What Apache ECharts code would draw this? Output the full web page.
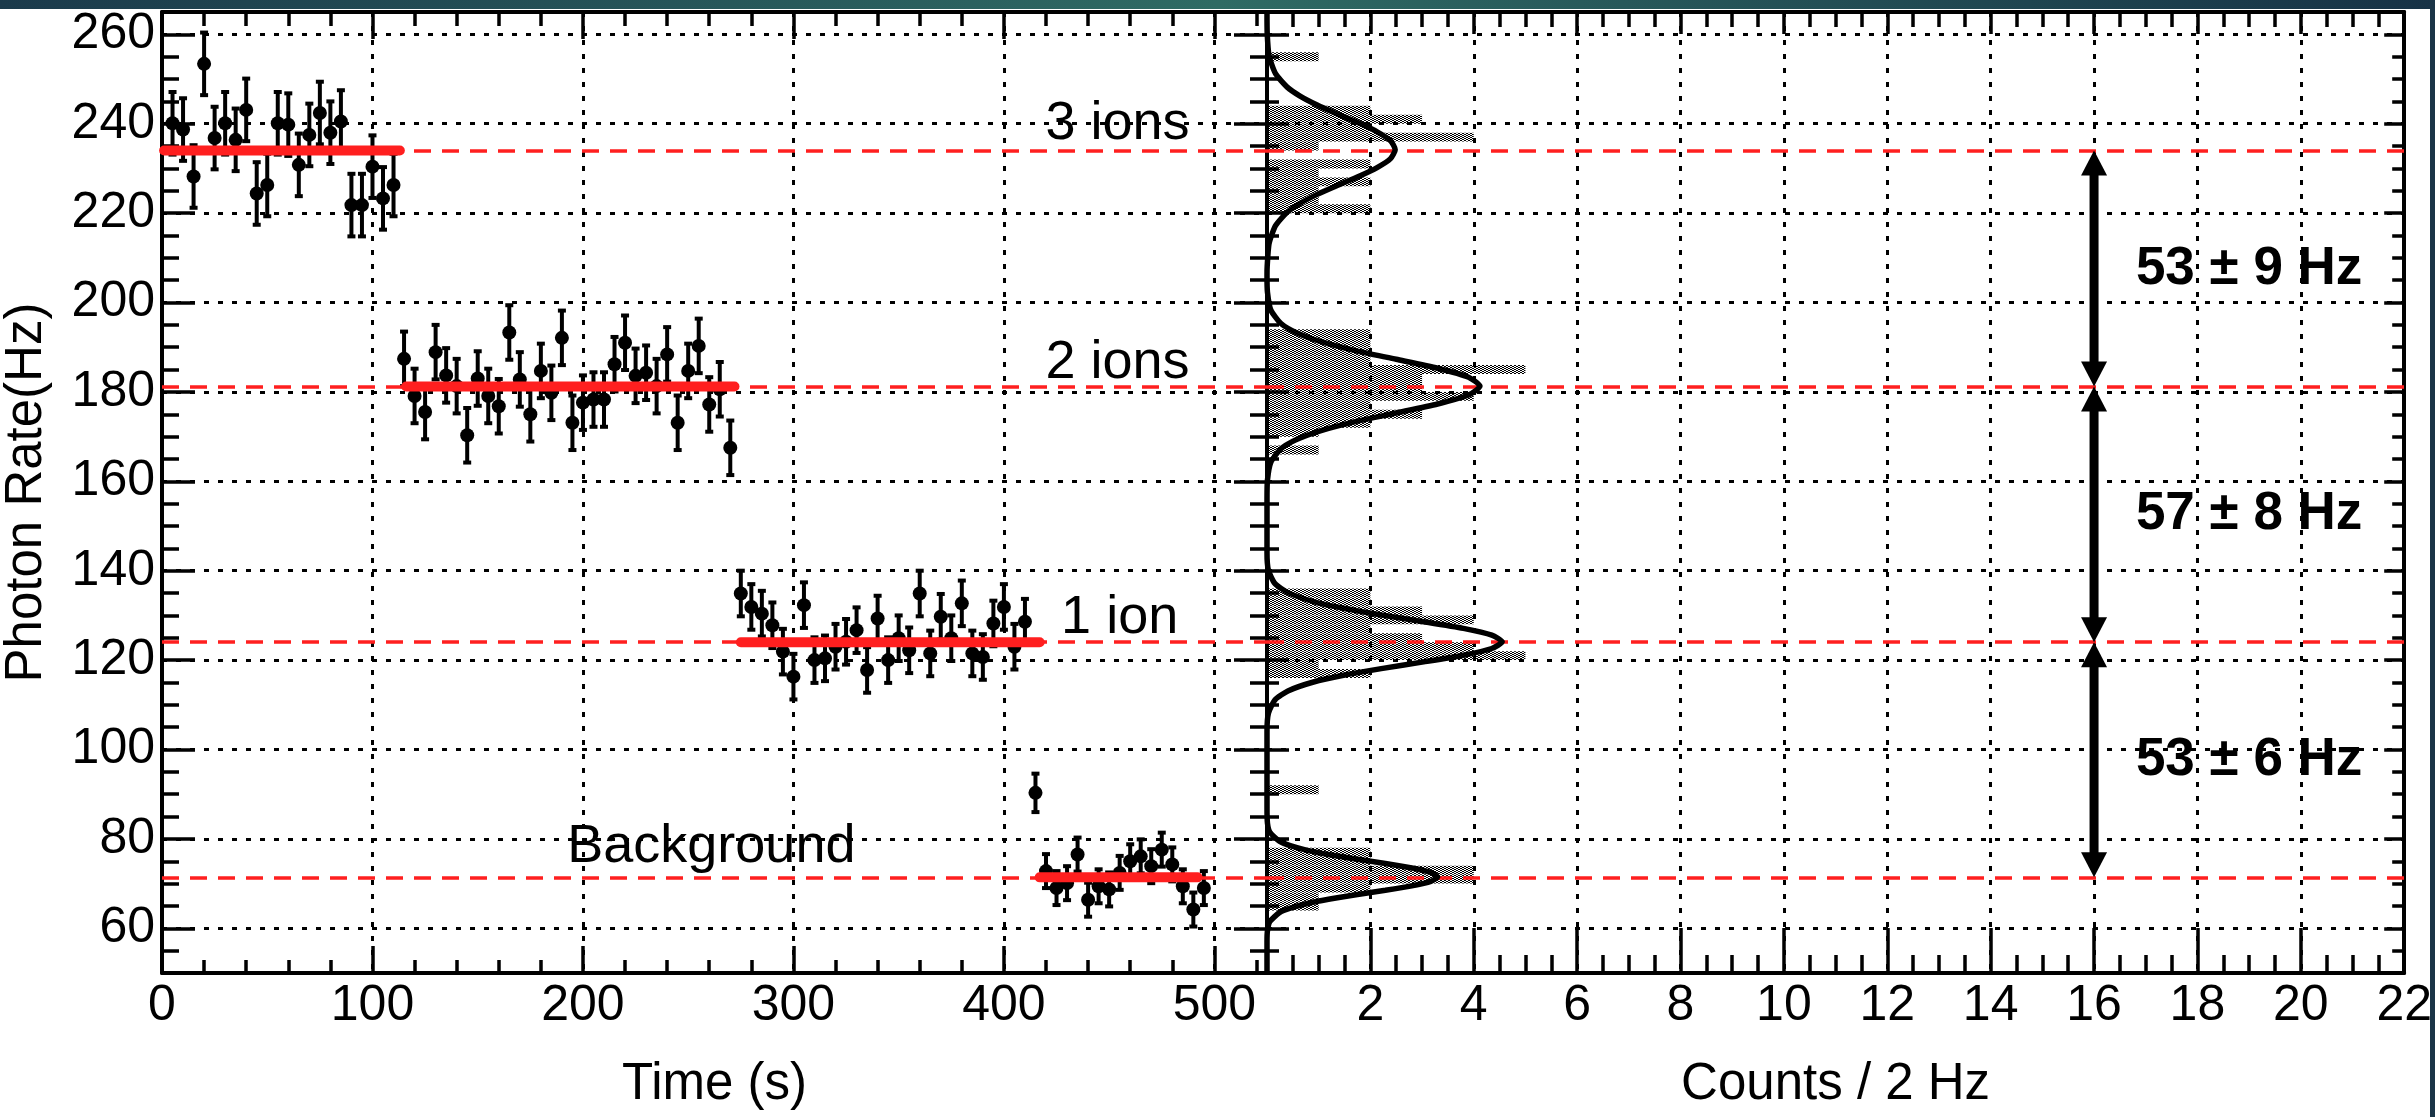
<!DOCTYPE html>
<html>
<head>
<meta charset="utf-8">
<script src="https://cdn.jsdelivr.net/npm/echarts@6/dist/echarts.min.js"></script>
<style>
html,body{margin:0;padding:0;background:#ffffff;}
#chart{width:2435px;height:1117px;}
</style>
</head>
<body>
<div id="chart"></div>
<script>
// ---------------- DATA ----------------
// Time trace: 5 s bins, photon rate (Hz)
const seg1Times = [5,10,15,20,25,30,35,40,45,50,55,60,65,70,75,80,85,90,95,100,105,110];
const seg1Rates = [240.1,238.7,228.2,253.4,236.8,240.1,236.4,243.1,224.4,226.3,240.1,239.8,230.8,237.5,242.4,238.0,240.5,221.8,221.8,230.4,223.3,226.3];

const seg2Times = [115,120,125,130,135,140,145,150,155,160,165,170,175,180,185,190,195,200,205,210,215,220,225,230,235,240,245,250,255,260,265,270];
const seg2Rates = [187.4,179.1,175.5,188.9,183.7,181.3,170.3,183.0,179.1,176.8,193.3,182.8,175.0,184.7,179.8,192.1,173.1,177.6,178.3,178.3,186.2,191.0,183.6,184.3,181.3,188.4,173.1,184.7,190.3,177.2,180.6,167.5];

const seg3Times = [275,280,285,290,295,300,305,310,315,320,325,330,335,340,345,350,355,360,365,370,375,380,385,390,395,400,405,410];
const seg3Rates = [134.9,131.9,130.4,127.8,121.9,116.3,132.3,120.0,120.4,123.0,124.1,126.7,117.8,129.3,120.0,124.9,122.2,134.9,121.5,129.7,124.9,132.7,121.5,120.7,128.2,131.9,123.0,128.6];

const spikeTimes = [415];
const spikeRates = [90.3];

const bgTimes = [420,425,430,435,440,445,450,455,460,465,470,475,480,485,490,495];
const bgRates = [72.8,69.0,70.1,76.5,66.4,69.4,68.7,72.4,75.0,76.1,73.9,77.6,74.3,69.4,64.2,69.0];

// half-length of the error bars of each segment (Hz)
const segmentErrors = [7.0, 6.1, 5.1, 4.3, 3.8];

// fitted plateau levels (Hz) and the time span of each solid red fit line (s)
const fitLevels = [234.0, 181.2, 124.0, 71.4];
const fitStarts = [1, 116, 275, 417];
const fitEnds   = [113, 272, 417, 492];

// histogram of rates: lower bin edge (Hz), counts per 2 Hz
const histBinWidth = 2;
const histLowEdges = [64,66,68,70,72,74,76, 90,
  116,118,120,122,124,126,128,130,132,134,
  166,170,172,174,176,178,180,182,184,186,188,190,192,
  220,222,224,226,228,230,234,236,238,240,242,254];
const histCounts = [1,1,2,4,4,2,2, 1,
  2,1,5,4,3,2,4,3,2,2,
  1,1,2,3,2,4,3,3,5,2,2,2,2,
  2,1,1,2,1,2,1,4,2,3,2,1];

// Gaussian fit curve: [counts, rate]
const fitCurve = [
 [0,50],[0,57],[0.009,59.5],[0.056,61.5],[0.24,63.5],[0.45,64.5],[0.76,65.5],[1.19,66.5],[1.72,67.5],[2.29,68.5],[2.80,69.5],[3.17,70.5],[3.30,71.5],[3.17,72.5],[2.80,73.5],[2.29,74.5],[1.72,75.5],[1.19,76.5],[0.76,77.5],[0.45,78.5],[0.24,79.5],[0.056,81.5],[0.009,83.5],[0,87],
 [0,104],[0.027,108.1],[0.155,111.1],[0.405,113.1],[0.90,115.1],[1.48,116.6],[2.21,118.1],[3.03,119.6],[3.80,121.1],[4.35,122.6],[4.55,124.1],[4.35,125.6],[3.80,127.1],[3.03,128.6],[2.21,130.1],[1.48,131.6],[0.90,133.1],[0.405,135.1],[0.155,137.1],[0.027,140.1],[0,144],
 [0,156],[0.009,160.3],[0.075,164.3],[0.27,167.3],[0.56,169.3],[1.03,171.3],[1.69,173.3],[2.50,175.3],[3.30,177.3],[3.90,179.3],[4.12,181.3],[3.90,183.3],[3.30,185.3],[2.50,187.3],[1.69,189.3],[1.03,191.3],[0.56,193.3],[0.27,195.3],[0.075,198.3],[0.009,202.3],[0,206],
 [0.004,208.2],[0.04,213.2],[0.165,217.2],[0.39,220.2],[0.64,222.2],[0.97,224.2],[1.36,226.2],[1.77,228.2],[2.13,230.2],[2.39,232.2],[2.48,234.2],[2.39,236.2],[2.13,238.2],[1.77,240.2],[1.36,242.2],[0.97,244.2],[0.64,246.2],[0.39,248.2],[0.165,251.2],[0.04,255.2],[0.004,260.2],[0,265]
];

// tick labels
const timeTicks  = [0,100,200,300,400,500];
const countTicks = [2,4,6,8,10,12,14,16,18,20,22];
const rateTicks  = [60,80,100,120,140,160,180,200,220,240,260];

// annotations
const levelLabels = ['3 ions','2 ions','1 ion','Background'];
const levelLabelTimes = [454, 454, 455, 261];
const levelLabelRates = [239.9, 186.4, 129.5, 78.2];
const stepLabels = ['53 \u00b1 9 Hz','57 \u00b1 8 Hz','53 \u00b1 6 Hz'];
const stepLabelCounts = [19.0, 19.0, 19.0];
const stepLabelRates = [207.4, 152.5, 97.5];
const arrowAtCount = 16;

// ---------------- BUILD ----------------
const pointSets = [[seg1Times,seg1Rates],[seg2Times,seg2Rates],[seg3Times,seg3Rates],[spikeTimes,spikeRates],[bgTimes,bgRates]];
const points = [];
pointSets.forEach(function(s, i){ s[0].forEach(function(t, j){ points.push([t, s[1][j], segmentErrors[i]]); }); });
const fitSegs = fitLevels.map(function(l, i){ return [fitStarts[i], fitEnds[i], l]; });
const histData = histLowEdges.map(function(lo, i){ return [histCounts[i], lo, lo + histBinWidth]; });
const arrowData = [];
for (let i = 0; i < fitLevels.length - 1; i++) arrowData.push([arrowAtCount, fitLevels[i], fitLevels[i+1]]);
const levelLabelData = levelLabels.map(function(n, i){ return [levelLabelTimes[i], levelLabelRates[i], i]; });
const stepLabelData = stepLabels.map(function(n, i){ return [stepLabelCounts[i], stepLabelRates[i], i]; });

const FONT = '"Liberation Sans", Arial, Helvetica, sans-serif';
const RED = '#ff1f1f';
const GRIDLINE = {show:true, lineStyle:{color:'#000', width:3, type:[5,9]}};

// dotted fill pattern of the histogram
const pat = document.createElement('canvas'); pat.width = 4; pat.height = 2;
const pg = pat.getContext('2d'); pg.fillStyle = '#000';
pg.fillRect(0,0,2,1); pg.fillRect(2,1,2,1);

function ax(o) {
  const base = {
    type:'value', axisLine:{show:false, onZero:false, lineStyle:{color:'#000', width:4}},
    axisTick:{show:true, inside:true, length:10, lineStyle:{color:'#000', width:3.5}},
    axisLabel:{show:false}, splitLine:{show:false}
  };
  const r = Object.assign({}, base, o);
  r.axisLine = Object.assign({}, base.axisLine, o.axisLine || {});
  r.axisTick = Object.assign({}, base.axisTick, o.axisTick || {});
  return r;
}
const LBL = {show:true, color:'#000', fontSize:50, fontFamily:FONT};
const NAME = {color:'#000', fontSize:51, fontFamily:FONT};

const xAxes = [
  // left grid
  ax({gridIndex:0, min:0, max:525, interval:100, position:'bottom', axisLine:{show:true}, axisTick:{length:27},
      axisLabel:Object.assign({}, LBL, {margin:8, customValues:timeTicks}), splitLine:GRIDLINE,
      name:'Time (s)', nameLocation:'middle', nameGap:86, nameTextStyle:NAME}),
  ax({gridIndex:0, min:0, max:525, interval:20, position:'bottom', axisTick:{length:13}}),
  ax({gridIndex:0, min:0, max:525, interval:100, position:'top', axisLine:{show:true}, axisTick:{length:27}}),
  ax({gridIndex:0, min:0, max:525, interval:20, position:'top', axisTick:{length:14}}),
  // right grid
  ax({gridIndex:1, min:0, max:22, interval:2, position:'bottom', axisLine:{show:true}, axisTick:{length:45},
      axisLabel:Object.assign({}, LBL, {margin:8, customValues:countTicks}), splitLine:GRIDLINE,
      name:'Counts / 2 Hz', nameLocation:'middle', nameGap:86, nameTextStyle:NAME}),
  ax({gridIndex:1, min:0, max:22, interval:0.5, position:'bottom', axisTick:{length:18}}),
  ax({gridIndex:1, min:0, max:22, interval:2, position:'top', axisLine:{show:true}, axisTick:{length:22}}),
  ax({gridIndex:1, min:0, max:22, interval:0.5, position:'top', axisTick:{length:15}})
];
const yAxes = [
  ax({gridIndex:0, min:50, max:265, position:'left', axisLine:{show:true}, axisTick:{length:33, customValues:rateTicks},
      axisLabel:Object.assign({}, LBL, {margin:7, customValues:rateTicks}), splitLine:GRIDLINE,
      name:'Photon Rate(Hz)', nameLocation:'middle', nameGap:110, nameTextStyle:NAME}),
  ax({gridIndex:0, min:50, max:265, interval:5, position:'left', axisTick:{length:17}}),
  ax({gridIndex:0, min:50, max:265, position:'right', axisLine:{show:true}, axisTick:{length:33, customValues:rateTicks}}),
  ax({gridIndex:0, min:50, max:265, interval:5, position:'right', axisTick:{length:17}}),
  ax({gridIndex:1, min:50, max:265, position:'left', axisLine:{show:true}, axisTick:{length:22, customValues:rateTicks}, splitLine:GRIDLINE}),
  ax({gridIndex:1, min:50, max:265, interval:5, position:'left', axisTick:{length:12}}),
  ax({gridIndex:1, min:50, max:265, position:'right', axisLine:{show:true}, axisTick:{length:20, customValues:rateTicks}}),
  ax({gridIndex:1, min:50, max:265, interval:5, position:'right', axisTick:{length:12}})
];

function levelMarkLine() {
  return {symbol:'none', silent:true, label:{show:false}, animation:false,
    lineStyle:{color:RED, width:3.5, type:[17,11]},
    data: fitLevels.map(function(v){ return {yAxis:v}; })};
}

const option = {
  animation:false,
  backgroundColor:'#ffffff',
  grid:[
    {left:159, top:12, width:1108, height:961},
    {left:1267, top:12, width:1141, height:961}
  ],
  xAxis:xAxes,
  yAxis:yAxes,
  graphic:[
    {type:'rect', z:100, shape:{x:0, y:0, width:2435, height:9},
     style:{fill:new echarts.graphic.LinearGradient(0,0,1,0,[{offset:0,color:'#1b3a4b'},{offset:0.5,color:'#2f6b64'},{offset:1,color:'#173246'}])}},
    {type:'rect', z:100, shape:{x:2430, y:0, width:5, height:1117}, style:{fill:'#1a3447'}}
  ],
  series:[
    // red dashed plateau levels, left panel
    {type:'line', xAxisIndex:0, yAxisIndex:0, data:[], markLine:levelMarkLine(), z:3},
    // data points with error bars
    {type:'custom', xAxisIndex:0, yAxisIndex:0, data:points, encode:{x:0, y:1}, z:4,
     renderItem:function(params, api){
       const t = api.value(0), v = api.value(1), e = api.value(2);
       const c = api.coord([t, v]), top = api.coord([t, v+e]), bot = api.coord([t, v-e]);
       const st = {stroke:'#000', lineWidth:4};
       return {type:'group', children:[
         {type:'line', shape:{x1:top[0], y1:top[1], x2:bot[0], y2:bot[1]}, style:st},
         {type:'line', shape:{x1:top[0]-4, y1:top[1], x2:top[0]+4, y2:top[1]}, style:st},
         {type:'line', shape:{x1:bot[0]-4, y1:bot[1], x2:bot[0]+4, y2:bot[1]}, style:st},
         {type:'line', shape:{x1:c[0]-6, y1:c[1], x2:c[0]+6, y2:c[1]}, style:{stroke:'#000', lineWidth:3}},
         {type:'circle', shape:{cx:c[0], cy:c[1], r:7}, style:{fill:'#000'}}
       ]};
     }},
    // solid red fit lines
    {type:'custom', xAxisIndex:0, yAxisIndex:0, data:fitSegs, encode:{x:[0,1], y:2}, z:5,
     renderItem:function(params, api){
       const a = api.coord([api.value(0), api.value(2)]), b = api.coord([api.value(1), api.value(2)]);
       return {type:'line', shape:{x1:a[0], y1:a[1], x2:b[0], y2:b[1]}, style:{stroke:RED, lineWidth:10, lineCap:'round'}};
     }},
    // level labels
    {type:'custom', xAxisIndex:0, yAxisIndex:0, data:levelLabelData, encode:{x:0, y:1}, z:6,
     renderItem:function(params, api){
       const p = api.coord([api.value(0), api.value(1)]);
       return {type:'text', x:p[0], y:p[1], style:{text:levelLabels[api.value(2)], fill:'#000',
         font:'54px ' + FONT, align:'center', verticalAlign:'middle'}};
     }},
    // histogram of rates
    {type:'custom', xAxisIndex:4, yAxisIndex:4, data:histData, encode:{x:0, y:[1,2]}, z:3,
     renderItem:function(params, api){
       const p0 = api.coord([0, api.value(2)]), p1 = api.coord([api.value(0), api.value(1)]);
       return {type:'rect', shape:{x:p0[0], y:p0[1], width:p1[0]-p0[0], height:p1[1]-p0[1]},
         style:{fill:{image:pat, repeat:'repeat'}}};
     }},
    // gaussian fit curve
    {type:'line', xAxisIndex:4, yAxisIndex:4, data:fitCurve, showSymbol:false, smooth:0.2, z:5,
     lineStyle:{color:'#000', width:5.5}},
    // red dashed levels, right panel
    {type:'line', xAxisIndex:4, yAxisIndex:4, data:[], markLine:levelMarkLine(), z:6},
    // double-headed arrows
    {type:'custom', xAxisIndex:4, yAxisIndex:4, data:arrowData, encode:{x:0, y:[1,2]}, z:7,
     renderItem:function(params, api){
       const x = api.value(0);
       const a = api.coord([x, api.value(1)]), b = api.coord([x, api.value(2)]);
       const hl = 25, hw = 13;
       return {type:'group', children:[
         {type:'line', shape:{x1:a[0], y1:a[1]+hl-2, x2:b[0], y2:b[1]-hl+2}, style:{stroke:'#000', lineWidth:9}},
         {type:'polygon', shape:{points:[[a[0],a[1]],[a[0]-hw,a[1]+hl],[a[0]+hw,a[1]+hl]]}, style:{fill:'#000'}},
         {type:'polygon', shape:{points:[[b[0],b[1]],[b[0]-hw,b[1]-hl],[b[0]+hw,b[1]-hl]]}, style:{fill:'#000'}}
       ]};
     }},
    // step size labels
    {type:'custom', xAxisIndex:4, yAxisIndex:4, data:stepLabelData, encode:{x:0, y:1}, z:8,
     renderItem:function(params, api){
       const p = api.coord([api.value(0), api.value(1)]);
       return {type:'text', x:p[0], y:p[1], style:{text:stepLabels[api.value(2)], fill:'#000',
         font:'bold 53px ' + FONT, align:'center', verticalAlign:'middle'}};
     }}
  ]
};

const chart = echarts.init(document.getElementById('chart'), null, {renderer:'canvas'});
chart.setOption(option);
</script>
</body>
</html>
